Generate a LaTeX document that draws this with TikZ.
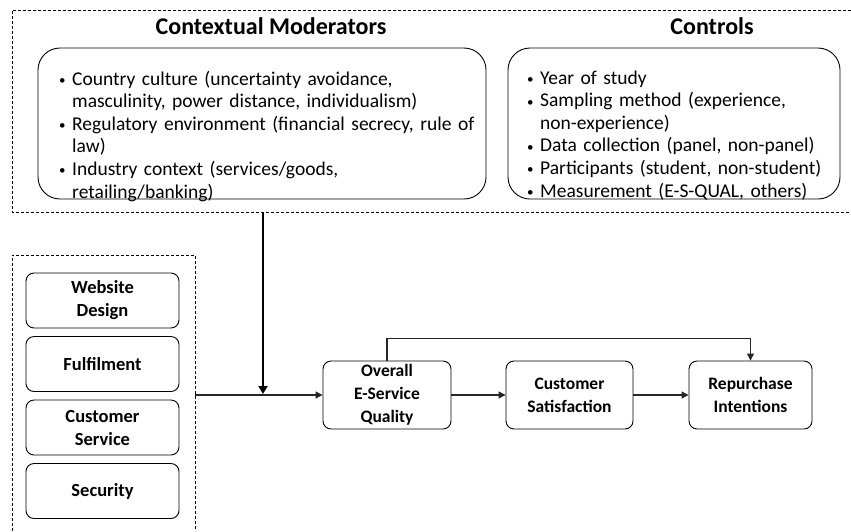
\documentclass[tikz,border=0pt]{standalone}
\usepackage{fontspec}
\setmainfont{Carlito}
\usetikzlibrary{arrows.meta}
\newcommand{\smallbul}{\raisebox{0.5pt}{\fontsize{13}{13}\selectfont\textbullet}}
\newcommand{\bl}[1]{\par\noindent\makebox[13pt][l]{\smallbul}\strut #1}
\newcommand{\cl}[1]{\par\noindent\hspace*{13pt}\strut #1}
\begin{document}
\begin{tikzpicture}[x=1pt,y=-1pt,
  smallbox/.style={draw, line width=0.9pt, rounded corners=8pt, minimum width=153pt, minimum height=55pt, align=center, font=\fontsize{18.5}{23}\selectfont\bfseries, inner sep=0pt},
  flowbox/.style={draw, line width=0.9pt, rounded corners=8pt, minimum height=68pt, align=center, font=\fontsize{17.5}{23}\selectfont\bfseries, inner sep=0pt},
  bigbox/.style={draw, line width=0.9pt, rounded corners=22pt, minimum height=151pt, inner sep=0pt},
  listtext/.style={anchor=north west, inner sep=0pt, text width=440pt, font=\fontsize{19.5}{22.6}\selectfont},
  heading/.style={anchor=base, inner sep=0pt, font=\fontsize{24}{28}\selectfont\bfseries},
  dashbox/.style={line width=0.9pt, dash pattern=on 3pt off 2pt},
  arr/.style={line width=1.1pt, draw=black!85, -{Triangle[length=7pt,width=7pt]}},
  thickarr/.style={line width=2pt, -{Triangle[length=8pt,width=9pt]}}
]
\useasboundingbox (0,0) rectangle (851,531);
% top dashed frame (open to the right)
\draw[dashbox] (851,10) -- (12,10) -- (12,212) -- (851,212);
% left dashed frame (open at bottom)
\draw[dashbox] (12,531) -- (12,255) -- (195,255) -- (195,531);

\node[heading] (hcm) at (271,34) {Contextual Moderators};
\node[heading] (hct) at (712,34) {Controls};

\node[bigbox, minimum width=448pt] (cmbox) at (262,123.5) {};
\node[bigbox, minimum width=332pt] (ctbox) at (674,123.5) {};

\node[listtext] (cmtext) at (59,62.2) {%
\bl{Country culture (uncertainty avoidance,}
\cl{masculinity, power distance, individualism)}
\bl{Regulatory environment (financial secrecy, rule of}
\cl{law)}
\bl{Industry context (services/goods,}
\cl{retailing/banking)}};

\node[listtext] (cttext) at (527,61.2) {%
\bl{Year of study}
\bl{Sampling method (experience,}
\cl{non-experience)}
\bl{Data collection (panel, non-panel)}
\bl{Participants (student, non-student)}
\bl{Measurement (E-S-QUAL, others)}};

\node[smallbox] (wd) at (102.5,300.5) {Website\\Design};
\node[smallbox] (fu) at (102.5,364) {Fulfilment};
\node[smallbox] (cs) at (102.5,427.5) {Customer\\Service};
\node[smallbox] (se) at (102.5,491) {Security};

\node[flowbox, minimum width=128pt] (ov) at (387,395) {Overall\\E-Service\\Quality};
\node[flowbox, minimum width=127pt] (sat) at (569.5,395) {Customer\\Satisfaction};
\node[flowbox, minimum width=123pt] (rp) at (750.5,395) {Repurchase\\Intentions};

\coordinate (lbr) at (195,395);
\coordinate (tb) at (263,212);
\coordinate (jn) at (263,394);

\draw[arr] (lbr) -- (ov.west);
\draw[thickarr] (tb) -- (jn);
\draw[arr] (ov) -- (sat);
\draw[arr] (sat) -- (rp);
\draw[arr] (ov.north) -- ++(0,-22) -| (rp.north);
\end{tikzpicture}
\end{document}
